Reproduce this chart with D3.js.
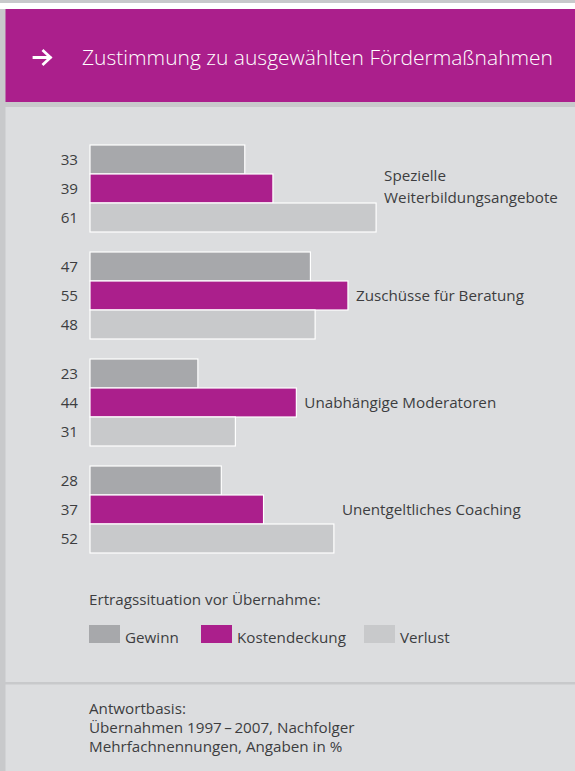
<!DOCTYPE html>
<html>
<head>
<meta charset="utf-8">
<script src="https://cdn.jsdelivr.net/npm/d3@7"></script>
<style>
  body { margin: 0; padding: 0; background: #fff; }
  svg { display: block; font-family: "Open Sans", "Noto Sans", sans-serif; }
</style>
</head>
<body>
<div class="chart"></div>
<script>
//Canvas dimensions
var width = 575,
    height = 771;

//Chart data
var categories = ["Spezielle Weiterbildungsangebote", "Zuschüsse für Beratung", "Unabhängige Moderatoren", "Unentgeltliches Coaching"];
var labelLines = [["Spezielle", "Weiterbildungsangebote"], ["Zuschüsse für Beratung"], ["Unabhängige Moderatoren"], ["Unentgeltliches Coaching"]];
var series = ["Gewinn", "Kostendeckung", "Verlust"];
var gewinn = [33, 47, 23, 28];
var kostendeckung = [39, 55, 44, 37];
var verlust = [61, 48, 31, 52];
var footerLines = ["Antwortbasis:", "Übernahmen 1997\u2009–\u20092007, Nachfolger", "Mehrfachnennungen, Angaben in %"];

var colors = { "Gewinn": "#a7a8ab", "Kostendeckung": "#ab1f8c", "Verlust": "#c8c9cb" };
var magenta = "#ab1f8c";
var textColor = "#3d3d3f";
var fontSize = 15.2;

//Rows built from the arrays above
var rows = categories.map(function(c, i) {
  return { name: c, lines: labelLines[i], values: [gewinn[i], kostendeckung[i], verlust[i]] };
});

var svg = d3.select(".chart")
            .append("svg")
            .attr("width", width)
            .attr("height", height);

//Background panels
svg.append("rect").attr("x", 0).attr("y", 0).attr("width", width).attr("height", height).attr("fill", "#c8c9cb");
svg.append("rect").attr("x", 0).attr("y", 3).attr("width", width).attr("height", 6).attr("fill", "#ffffff");
svg.append("rect").attr("x", 5.5).attr("y", 9).attr("width", width - 5.5).attr("height", 93).attr("fill", magenta);
svg.append("rect").attr("x", 5.5).attr("y", 107).attr("width", width - 5.5).attr("height", 575).attr("fill", "#dcdddf");
svg.append("rect").attr("x", 5.5).attr("y", 684.5).attr("width", width - 5.5).attr("height", height - 684.5).attr("fill", "#dcdddf");

//Header arrow
svg.append("path")
   .attr("d", "M34,57.5H50M43.5,51L50.5,57.5L43.5,64")
   .attr("fill", "none")
   .attr("stroke", "#fff")
   .attr("stroke-width", 2.8)
   .attr("stroke-linecap", "square");

svg.append("text")
   .attr("x", 82).attr("y", 65)
   .attr("fill", "#fff")
   .attr("font-size", 21)
   .attr("font-weight", 300)
   .text("Zustimmung zu ausgewählten Fördermaßnahmen");

//Scales
var x = d3.scaleLinear().domain([0, 100]).range([90, 90 + 469]);

var y0 = d3.scaleBand()
           .domain(categories)
           .range([145, 553])
           .paddingInner(20 / 107)
           .paddingOuter(0);

var y1 = d3.scaleBand()
           .domain(series)
           .range([0, y0.bandwidth()]);

//Groups of bars
var groups = svg.selectAll(".group")
                .data(rows)
                .enter()
                .append("g")
                .attr("class", "group")
                .attr("transform", function(d) { return "translate(0," + y0(d.name) + ")"; });

groups.selectAll("rect")
      .data(function(d) { return d.values.map(function(v, i) { return { key: series[i], value: v }; }); })
      .enter()
      .append("rect")
      .attr("x", x(0))
      .attr("y", function(d) { return y1(d.key); })
      .attr("width", function(d) { return x(d.value) - x(0); })
      .attr("height", y1.bandwidth())
      .attr("fill", function(d) { return colors[d.key]; })
      .attr("stroke", "#fff")
      .attr("stroke-width", 1.2);

//Value labels at the left
groups.selectAll(".value")
      .data(function(d) { return d.values.map(function(v, i) { return { key: series[i], value: v }; }); })
      .enter()
      .append("text")
      .attr("class", "value")
      .attr("x", 78)
      .attr("y", function(d) { return y1(d.key) + y1.bandwidth() / 2; })
      .attr("dy", "0.35em")
      .attr("text-anchor", "end")
      .attr("font-size", fontSize)
      .attr("fill", textColor)
      .text(function(d) { return d.value; });

//Category labels to the right of the longest bar
groups.append("text")
      .attr("class", "cat")
      .attr("x", function(d) { return x(d3.max(d.values)) + 8; })
      .attr("y", function(d) { return y1(series[1]) + y1.bandwidth() / 2 - (d.lines.length - 1) * 13; })
      .attr("font-size", fontSize)
      .attr("fill", textColor)
      .selectAll("tspan")
      .data(function(d) { return d.lines; })
      .enter()
      .append("tspan")
      .attr("x", function() { return d3.select(this.parentNode).attr("x"); })
      .attr("dy", function(d, i) { return i === 0 ? "0.35em" : 22; })
      .text(function(d) { return d; });

//Legend
svg.append("text")
   .attr("x", 89).attr("y", 605)
   .attr("font-size", fontSize)
   .attr("fill", textColor)
   .text("Ertragssituation vor Übernahme:");

var legendX = [89, 201, 364];
var legend = svg.selectAll(".legend")
                .data(series)
                .enter()
                .append("g")
                .attr("class", "legend")
                .attr("transform", function(d, i) { return "translate(" + legendX[i] + ",625)"; });

legend.append("rect")
      .attr("width", 31)
      .attr("height", 18)
      .attr("fill", function(d) { return colors[d]; });

legend.append("text")
      .attr("x", 36)
      .attr("y", 18)
      .attr("font-size", fontSize)
      .attr("fill", textColor)
      .text(function(d) { return d; });

//Footer
svg.selectAll(".footer")
   .data(footerLines)
   .enter()
   .append("text")
   .attr("class", "footer")
   .attr("x", 89)
   .attr("y", function(d, i) { return 714 + i * 19; })
   .attr("font-size", fontSize)
   .attr("fill", textColor)
   .text(function(d) { return d; });
</script>
</body>
</html>
